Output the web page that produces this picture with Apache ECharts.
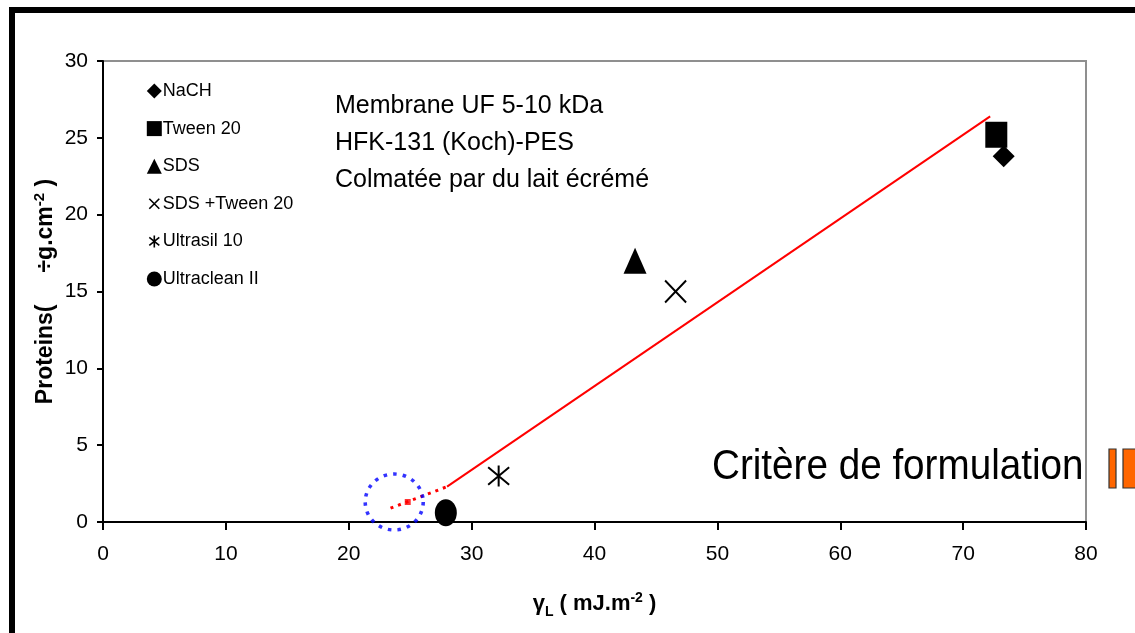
<!DOCTYPE html>
<html>
<head>
<meta charset="utf-8">
<script src="https://cdn.jsdelivr.net/npm/echarts@6/dist/echarts.min.js"></script>
<style>
html,body{margin:0;padding:0;background:#fff;}
#c{width:1135px;height:633px;}
</style>
</head>
<body>
<div id="c"></div>
<script>
// ---- data ----
const seriesNames = ['NaCH', 'Tween 20', 'SDS', 'SDS +Tween 20', 'Ultrasil 10', 'Ultraclean II'];
const xValues = [73.3, 72.7, 43.3, 46.6, 32.2, 27.9];
const yValues = [23.8, 25.2, 17.0, 15.0, 3.0, 0.6];
const fitX = [28.0, 72.2];
const fitY = [2.3, 26.4];
const extX = [23.4, 28.0];
const extY = [0.9, 2.3];
const extMarker = [24.8, 1.3];
const circleCenter = [23.7, 1.3];
const xTicks = [0, 10, 20, 30, 40, 50, 60, 70, 80];
const yTicks = [0, 5, 10, 15, 20, 25, 30];
const noteLines = ['Membrane UF 5-10 kDa', 'HFK-131 (Koch)-PES', 'Colmatée par du lait écrémé'];
const criterionText = 'Critère de formulation';

const FONT = '"Liberation Sans", Arial, sans-serif';
const XPATH = 'path://M0,0L10,10M10,0L0,10';
const ASTPATH = 'path://M0,0L10,10M10,0L0,10M5,-1L5,11';
const XPATH_LEG = 'path://M-2.5,-2.5M12.5,12.5M0,0L10,10M10,0L0,10';
const ASTPATH_LEG = 'path://M-2.5,-2.5M12.5,12.5M0,1L10,9M10,1L0,9M5,-1L5,11';

const symbols = ['diamond', 'rect', 'triangle', XPATH, ASTPATH, 'circle'];
const sizes = [[22, 22], [22, 26], [23, 26], [21, 22], [21, 21], [22, 27]];
const legendIcons = ['diamond', 'rect', 'triangle', XPATH_LEG, ASTPATH_LEG, 'circle'];

const chart = echarts.init(document.getElementById('c'), null, {renderer: 'canvas'});

const scatterSeries = seriesNames.map((name, i) => {
  const stroked = (i === 3 || i === 4);
  return {
    name: name,
    type: 'scatter',
    symbol: symbols[i],
    symbolSize: sizes[i],
    z: 5,
    itemStyle: stroked
      ? {color: 'rgba(0,0,0,0)', borderColor: '#000', borderWidth: 2, opacity: 1}
      : {color: '#000', opacity: 1},
    data: [[xValues[i], yValues[i]]]
  };
});

const option = {
  backgroundColor: '#fff',
  animation: false,
  textStyle: {fontFamily: FONT},
  grid: {
    left: 103, right: 49, top: 61, bottom: 111,
    show: true, borderColor: '#8f8f8f', borderWidth: 2, backgroundColor: '#fff'
  },
  legend: {
    orient: 'vertical',
    left: 141, top: 77,
    itemWidth: 15, itemHeight: 15,
    itemGap: 19.6,
    textStyle: {fontSize: 18, color: '#000', fontFamily: FONT, padding: [0, 0, 0, -4]},
    data: seriesNames.map((n, i) => {
      const stroked = (i === 3 || i === 4);
      return {
        name: n,
        icon: legendIcons[i],
        itemStyle: stroked
          ? {color: 'rgba(0,0,0,0)', borderColor: '#000', borderWidth: 1.6}
          : {color: '#000', borderWidth: 0}
      };
    })
  },
  xAxis: {
    type: 'value', min: 0, max: 80, interval: 10,
    name: '{g|γ}{sub|L}{t| ( mJ.m}{sup|-2}{t| )}',
    nameLocation: 'middle', nameGap: 69, nameMoveOverlap: false,
    nameTextStyle: {
      rich: {
        g: {fontSize: 22, fontWeight: 'bold', fontFamily: FONT, color: '#000', verticalAlign: 'bottom'},
        sub: {fontSize: 14, fontWeight: 'bold', fontFamily: FONT, color: '#000', verticalAlign: 'bottom', padding: [0, 0, -4, 0]},
        t: {fontSize: 22, fontWeight: 'bold', fontFamily: FONT, color: '#000', verticalAlign: 'bottom'},
        sup: {fontSize: 14, fontWeight: 'bold', fontFamily: FONT, color: '#000', verticalAlign: 'top', padding: [0, 0, 10, 0]}
      }
    },
    axisLine: {show: true, onZero: false, lineStyle: {color: '#000', width: 2}},
    axisTick: {show: true, inside: false, length: 8, lineStyle: {color: '#000', width: 2}},
    axisLabel: {fontSize: 21, color: '#000', margin: 22, fontFamily: FONT,
      formatter: v => xTicks.indexOf(v) >= 0 ? String(v) : ''},
    splitLine: {show: false}
  },
  yAxis: {
    type: 'value', min: 0, max: 30, interval: 5,
    name: '{t|Proteins(     ÷g.cm}{sup|-2}{t| )}',
    nameLocation: 'middle', nameGap: 46, nameRotate: 90, nameMoveOverlap: false,
    nameTextStyle: {
      rich: {
        t: {fontSize: 23, fontWeight: 'bold', fontFamily: FONT, color: '#000', verticalAlign: 'bottom'},
        sup: {fontSize: 15, fontWeight: 'bold', fontFamily: FONT, color: '#000', verticalAlign: 'top', padding: [0, 0, 10, 0]}
      }
    },
    axisLine: {show: true, onZero: false, lineStyle: {color: '#000', width: 2}},
    axisTick: {show: true, inside: false, length: 6, lineStyle: {color: '#000', width: 2}},
    axisLabel: {fontSize: 21, color: '#000', margin: 15, fontFamily: FONT,
      formatter: v => yTicks.indexOf(v) >= 0 ? String(v) : ''},
    splitLine: {show: false}
  },
  series: [
    {
      name: 'fit', type: 'line', symbol: 'none', z: 3,
      lineStyle: {color: '#ff0000', width: 2},
      data: fitX.map((x, i) => [x, fitY[i]])
    },
    {
      name: 'fitExt', type: 'line', symbol: 'none', z: 3,
      lineStyle: {color: '#ff0000', width: 3, type: [3, 5]},
      data: extX.map((x, i) => [x, extY[i]])
    },
    {
      name: 'extMark', type: 'scatter', symbol: 'rect', symbolSize: 6, z: 4,
      itemStyle: {color: '#ff0000'},
      data: [extMarker]
    },
    {
      name: 'zone', type: 'scatter', symbol: 'circle', symbolSize: [58, 56], z: 6,
      itemStyle: {color: 'rgba(0,0,0,0)', borderColor: '#0000ff', borderWidth: 3.5, borderType: [3.5, 6]},
      data: [circleCenter]
    }
  ].concat(scatterSeries),
  graphic: [
    {
      type: 'rect', z: 100, silent: true,
      shape: {x: 12, y: 10, width: 1300, height: 800},
      style: {fill: 'none', stroke: '#000', lineWidth: 6}
    },
    {
      type: 'text', z: 50, x: 335, y: 88,
      style: {text: noteLines.join('\n'), font: '25px ' + FONT, lineHeight: 37, fill: '#000', verticalAlign: 'top'}
    },
    {
      type: 'text', z: 50, x: 712, y: 446, scaleX: 0.92,
      style: {text: criterionText, font: '42px ' + FONT, fill: '#000', verticalAlign: 'top'}
    },
    {
      type: 'rect', z: 50, shape: {x: 1109, y: 449, width: 7, height: 39},
      style: {fill: '#ff6600', stroke: '#333', lineWidth: 1.2}
    },
    {
      type: 'rect', z: 50, shape: {x: 1123, y: 449, width: 20, height: 39},
      style: {fill: '#ff6600', stroke: '#333', lineWidth: 1.2}
    }
  ]
};
chart.setOption(option);
</script>
</body>
</html>
